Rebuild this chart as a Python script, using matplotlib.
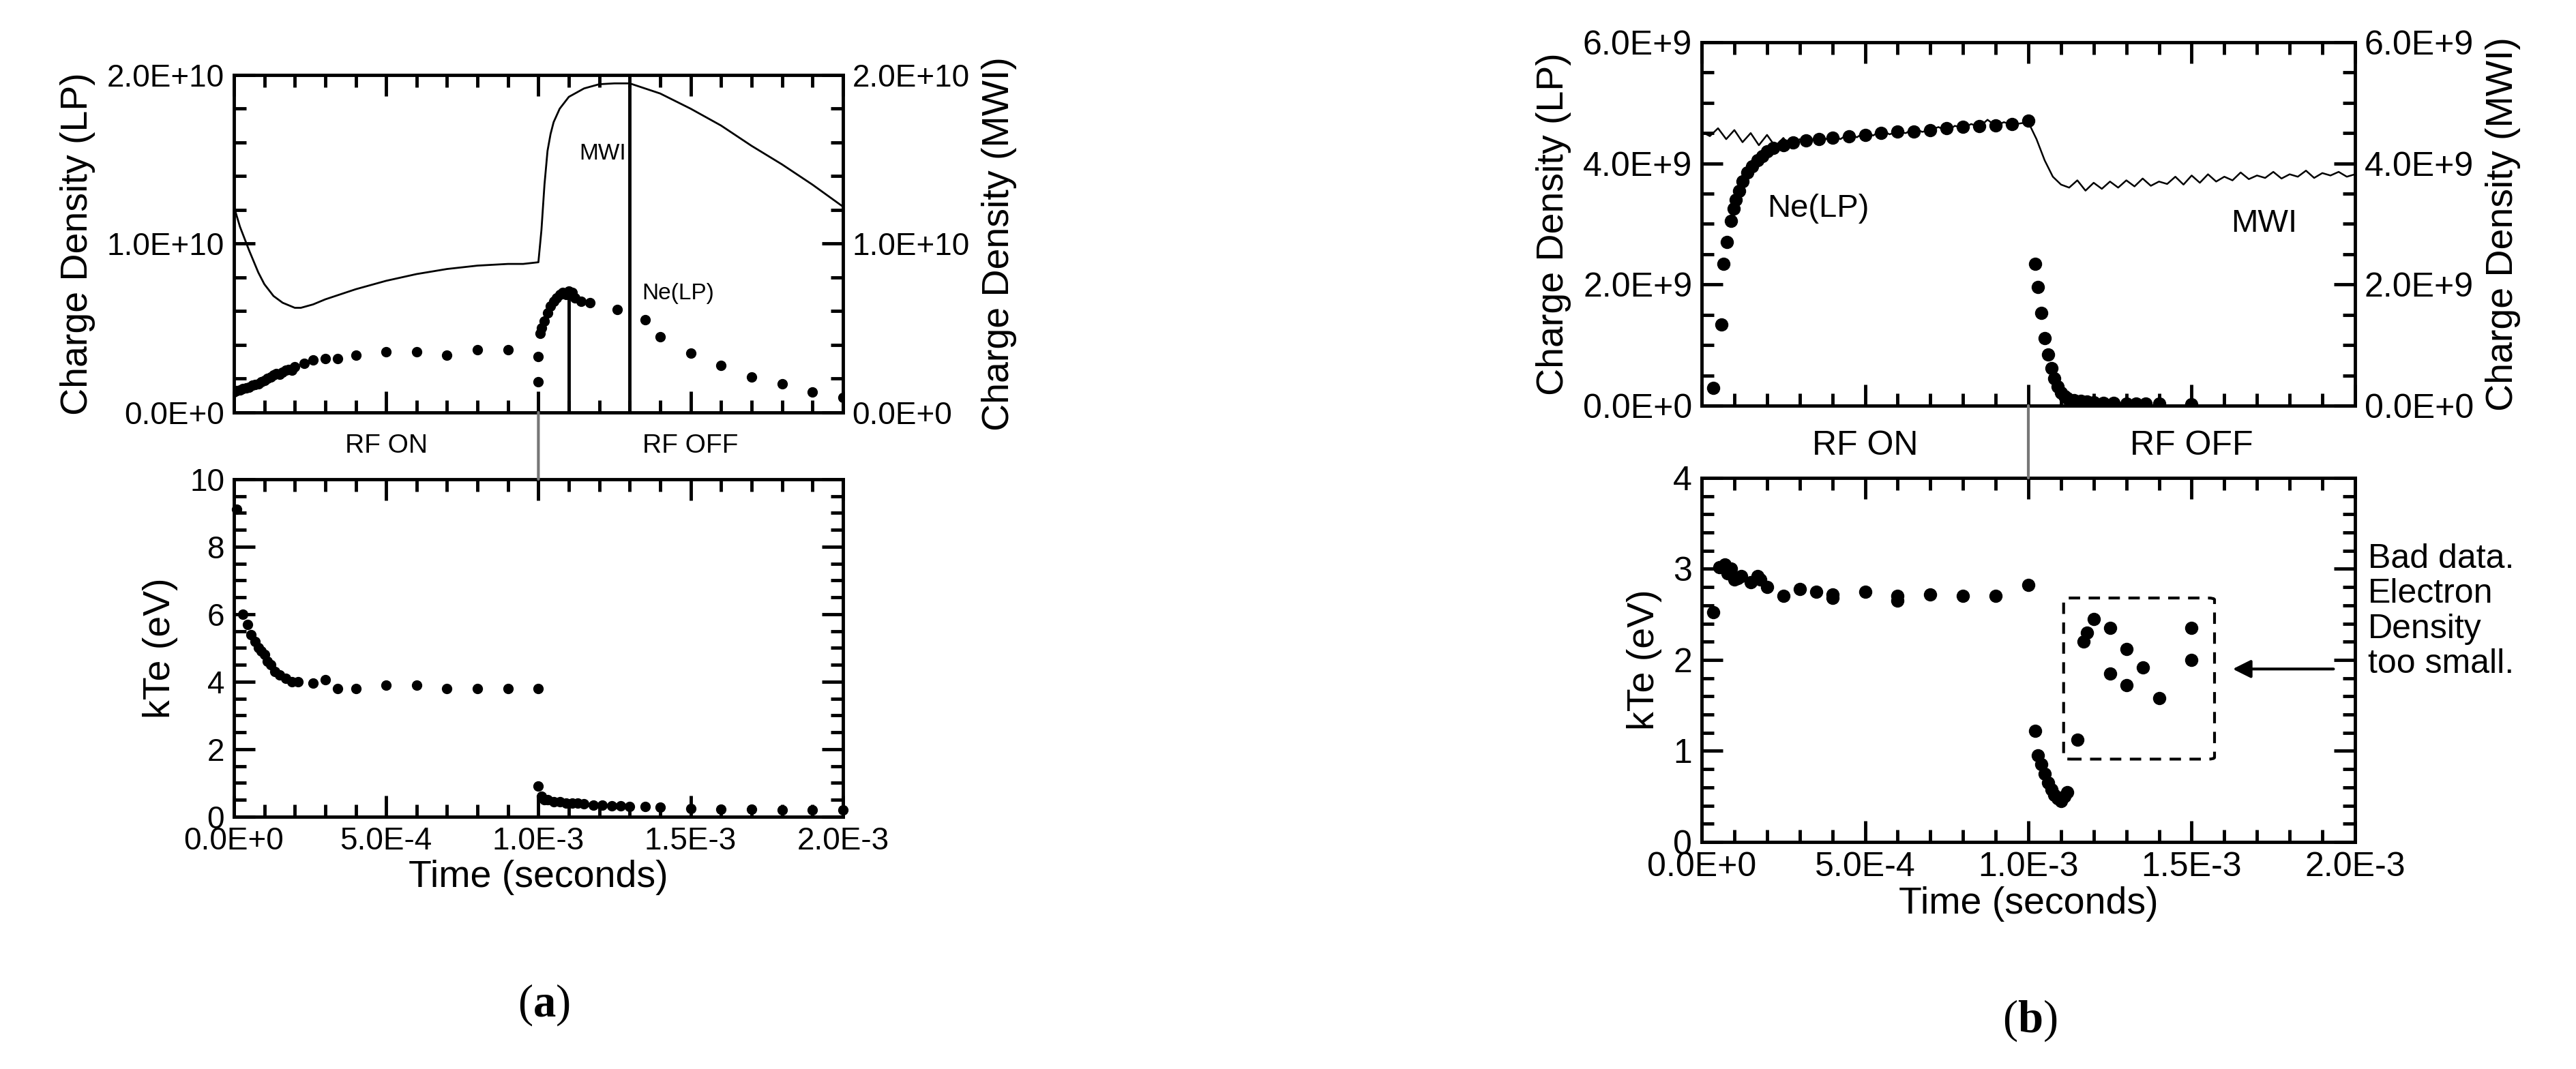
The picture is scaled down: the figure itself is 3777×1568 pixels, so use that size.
import matplotlib
matplotlib.use("Agg")
import matplotlib.pyplot as plt
import numpy as np
from matplotlib.patches import FancyBboxPatch, ConnectionPatch
from matplotlib.ticker import MultipleLocator, FuncFormatter

plt.rcParams['font.family'] = ['Liberation Sans', 'DejaVu Sans']
plt.rcParams['mathtext.fontset'] = 'custom'
plt.rcParams['mathtext.rm'] = 'Liberation Serif'
plt.rcParams['mathtext.bf'] = 'Liberation Serif:bold'

# ---------------- Panel (a) data ----------------
a_mwi_t = [0, 0.2, 0.5, 0.8, 1.0, 1.3, 1.6, 2.0, 2.2, 2.6, 3.0, 4.0, 5.0, 6.0, 7.0, 8.0, 9.0, 9.5, 10.0,
           10.1, 10.2, 10.3, 10.4, 10.5, 10.7, 11.0, 11.5, 12.0, 12.5, 13.0, 14.0, 15.0, 16.0, 17.0, 18.0, 19.0, 20.0]  # 1e-4 s
a_mwi_v = [12.2, 11.0, 9.6, 8.3, 7.6, 6.9, 6.5, 6.2, 6.2, 6.4, 6.7, 7.3, 7.8, 8.2, 8.5, 8.7, 8.8, 8.8, 8.9,
           10.8, 13.5, 15.5, 16.5, 17.2, 18.0, 18.7, 19.2, 19.45, 19.5, 19.5, 18.9, 18.0, 17.0, 15.8, 14.7, 13.5, 12.2]  # 1e9

a_ne_t = [0, 0.1, 0.2, 0.3, 0.4, 0.5, 0.6, 0.7, 0.8, 0.9, 1.0, 1.1, 1.2, 1.3, 1.4, 1.5, 1.6, 1.7, 1.8, 1.9, 2.0,
          2.3, 2.6, 3.0, 3.4, 4.0, 5.0, 6.0, 7.0, 8.0, 9.0, 10.0,
          10.0, 10.05, 10.1, 10.2, 10.3, 10.4, 10.5, 10.6, 10.7, 10.8, 10.9, 11.0, 11.1, 11.2, 11.4, 11.7,
          12.6, 13.5, 14.0, 15.0, 16.0, 17.0, 18.0, 19.0, 20.0]
a_ne_v = [1.2, 1.3, 1.35, 1.4, 1.45, 1.5, 1.6, 1.65, 1.7, 1.8, 1.9, 2.0, 2.1, 2.2, 2.3, 2.25, 2.4, 2.5, 2.55, 2.5, 2.7,
          2.9, 3.1, 3.2, 3.2, 3.4, 3.6, 3.6, 3.4, 3.7, 3.7, 3.3,
          1.8, 4.7, 5.0, 5.4, 5.9, 6.3, 6.6, 6.8, 7.0, 7.1, 7.0, 7.2, 7.1, 6.8, 6.6, 6.5,
          6.1, 5.5, 4.5, 3.5, 2.8, 2.1, 1.7, 1.2, 0.9]

a_mark_t = [11.0, 13.0]
a_mark_top = [7.1, 19.4]

a_kte_t = [0.1, 0.3, 0.45, 0.55, 0.7, 0.8, 0.9, 1.0, 1.1, 1.2, 1.35, 1.5, 1.7, 1.9, 2.1, 2.6, 3.0, 3.4, 4.0,
           5.0, 6.0, 7.0, 8.0, 9.0, 10.0,
           10.0, 10.1, 10.2, 10.3, 10.5, 10.7, 10.9, 11.1, 11.3, 11.5, 11.8, 12.1, 12.4, 12.7, 13.0, 13.5,
           14.0, 15.0, 16.0, 17.0, 18.0, 19.0, 20.0]
a_kte_v = [9.1, 6.0, 5.7, 5.4, 5.2, 5.0, 4.9, 4.8, 4.6, 4.5, 4.3, 4.2, 4.1, 4.0, 4.0, 3.95, 4.06, 3.8, 3.8,
           3.9, 3.9, 3.8, 3.8, 3.8, 3.8,
           0.9, 0.6, 0.5, 0.5, 0.45, 0.45, 0.4, 0.4, 0.4, 0.38, 0.35, 0.35, 0.33, 0.32, 0.3, 0.3,
           0.28, 0.25, 0.22, 0.22, 0.2, 0.2, 0.2]

# ---------------- Panel (b) data ----------------
b_mwi_t = list(np.arange(0, 20.01, 0.25))  # 1e-4 s (time grid of the trace)
b_mwi_v = [4.52, 4.45, 4.58, 4.40, 4.55, 4.35, 4.50, 4.30, 4.47, 4.28, 4.42, 4.25, 4.40, 4.32, 4.45, 4.38, 4.48,
           4.40, 4.50, 4.43, 4.52, 4.46, 4.55, 4.48, 4.52, 4.50, 4.58, 4.52, 4.55, 4.60, 4.53, 4.62, 4.58, 4.65,
           4.60, 4.72, 4.62, 4.68, 4.64, 4.66, 4.68,
           4.40, 4.05, 3.78, 3.65, 3.60, 3.72, 3.55, 3.68, 3.58, 3.70, 3.60, 3.72, 3.62, 3.75, 3.63, 3.70, 3.66,
           3.78, 3.65, 3.80, 3.68, 3.82, 3.70, 3.78, 3.72, 3.85, 3.74, 3.80, 3.76, 3.86, 3.75, 3.82, 3.78, 3.88,
           3.76, 3.84, 3.80, 3.86, 3.78, 3.82]

b_ne_t = [0.35, 0.6, 0.66, 0.78, 0.9, 0.97, 1.05, 1.15, 1.25, 1.4, 1.55, 1.7, 1.85, 2.0, 2.2, 2.5, 2.8, 3.2,
          3.6, 4.0, 4.5, 5.0, 5.5, 6.0, 6.5, 7.0, 7.5, 8.0, 8.5, 9.0, 9.5, 10.0,
          10.2, 10.3, 10.4, 10.5, 10.6, 10.7, 10.8, 10.9, 11.0, 11.1, 11.2, 11.4, 11.6, 11.8, 12.0, 12.3, 12.6,
          13.0, 13.3, 13.6, 14.0, 15.0]
b_ne_v = [0.29, 1.34, 2.34, 2.7, 3.05, 3.25, 3.4, 3.55, 3.7, 3.85, 3.95, 4.05, 4.12, 4.2, 4.25, 4.3, 4.35, 4.38,
          4.4, 4.42, 4.45, 4.47, 4.5, 4.52, 4.53, 4.55, 4.58, 4.6, 4.62, 4.63, 4.65, 4.7,
          2.34, 1.96, 1.53, 1.12, 0.85, 0.62, 0.45, 0.32, 0.22, 0.16, 0.12, 0.09, 0.08, 0.07, 0.06, 0.05, 0.05,
          0.04, 0.03, 0.03, 0.03, 0.02]

b_kte_t = [0.35, 0.55, 0.7, 0.8, 0.9, 1.0, 1.1, 1.2, 1.5, 1.7, 1.8, 2.0, 2.5, 3.0, 3.5, 4.0, 4.0, 5.0, 6.0, 6.0,
           7.0, 8.0, 9.0, 10.0,
           10.2, 10.3, 10.4, 10.5, 10.6, 10.7, 10.8, 10.9, 11.0, 11.1, 11.2,
           11.5, 11.7, 11.8, 12.0, 12.5, 12.5, 13.0, 13.0, 13.5, 14.0, 15.0, 15.0]
b_kte_v = [2.52, 3.02, 3.05, 2.95, 3.0, 2.88, 2.9, 2.92, 2.85, 2.92, 2.88, 2.8, 2.7, 2.78, 2.75, 2.72, 2.68, 2.75,
           2.7, 2.65, 2.72, 2.7, 2.7, 2.82,
           1.22, 0.95, 0.85, 0.75, 0.65, 0.58, 0.52, 0.48, 0.45, 0.5, 0.55,
           1.12, 2.2, 2.3, 2.45, 2.35, 1.85, 2.12, 1.72, 1.92, 1.58, 2.35, 2.0]

box_b = [11.08, 15.7, 0.91, 2.68]  # t0, t1 (1e-4 s), kTe0, kTe1

# ---------------- Figure ----------------
fig = plt.figure(figsize=(37.77, 15.68), dpi=100)

def fmt_sci(v, pos):
    if v == 0:
        return "0.0E+0"
    e = int(np.floor(np.log10(abs(v)) + 1e-9))
    return f"{v/10**e:.1f}E{e:+d}"

def fmt_time(v, pos):
    if abs(v) < 1e-12:
        return "0.0E+0"
    e = int(np.floor(np.log10(abs(v)) + 1e-9))
    return f"{v/10**e:.1f}E{e:d}"

TLS = 33
LBS = 40

def style(ax, ymaj, ymin, fs=TLS):
    ax.set_xlim(0, 2e-3)
    ax.xaxis.set_major_locator(MultipleLocator(5e-4))
    ax.xaxis.set_minor_locator(MultipleLocator(1e-4))
    ax.yaxis.set_major_locator(MultipleLocator(ymaj))
    ax.yaxis.set_minor_locator(MultipleLocator(ymin))
    ax.tick_params(which='both', direction='in', top=True, right=True, width=3.5, labelsize=fs, pad=10)
    ax.tick_params(which='major', length=22)
    ax.tick_params(which='minor', length=13)
    for s in ax.spines.values():
        s.set_linewidth(3.5)

def tt(lst):
    return np.array(lst) * 1e-4

# ---- (a) top
axA = fig.add_axes([0.0908, 0.6142, 0.2364, 0.3157])
style(axA, 1e10, 2e9)
axA.set_ylim(0, 2e10)
axA.plot(tt(a_mwi_t), np.array(a_mwi_v) * 1e9, color='black', lw=2)
axA.plot(tt(a_ne_t), np.array(a_ne_v) * 1e9, 'o', color='black', ms=10)
axA.vlines(tt(a_mark_t), 0, np.array(a_mark_top) * 1e9, color='black', lw=3.5)
axA.tick_params(labelbottom=False, labelright=False)
axA.yaxis.set_major_formatter(FuncFormatter(fmt_sci))
axA.set_ylabel("Charge Density (LP)", fontsize=LBS, labelpad=12)
axA.text(1.135e-3, 1.5e10, "MWI", fontsize=24)
axA.text(1.34e-3, 6.7e9, "Ne(LP)", fontsize=24)
axA.text(0.5e-3, -0.1, "RF ON", transform=axA.get_xaxis_transform(), ha='center', va='center', fontsize=28)
axA.text(1.5e-3, -0.1, "RF OFF", transform=axA.get_xaxis_transform(), ha='center', va='center', fontsize=28)
axA2 = axA.twinx()
axA2.set_ylim(0, 2e10)
axA2.yaxis.set_major_locator(MultipleLocator(1e10))
axA2.yaxis.set_minor_locator(MultipleLocator(2e9))
axA2.yaxis.set_major_formatter(FuncFormatter(fmt_sci))
axA2.tick_params(which='both', direction='in', width=3.5, labelsize=TLS, pad=10)
axA2.tick_params(which='major', length=22)
axA2.tick_params(which='minor', length=13)
axA2.set_ylabel("Charge Density (MWI)", fontsize=LBS, labelpad=12)

# ---- (a) bottom
axB = fig.add_axes([0.0908, 0.236, 0.2364, 0.3157])
style(axB, 2, 0.5)
axB.set_ylim(0, 10)
axB.plot(tt(a_kte_t), a_kte_v, 'o', color='black', ms=10, clip_on=False)
axB.xaxis.set_major_formatter(FuncFormatter(fmt_time))
axB.set_ylabel("kTe (eV)", fontsize=LBS, labelpad=12)
axB.set_xlabel("Time (seconds)", fontsize=LBS, labelpad=4)
fig.add_artist(ConnectionPatch(xyA=(1e-3, 0), coordsA=axA.transData, xyB=(1e-3, 10), coordsB=axB.transData,
                               color='#777777', lw=3))

# ---- (b) top
axC = fig.add_axes([0.6606, 0.6205, 0.2536, 0.340])
style(axC, 2e9, 5e8, fs=36)
axC.set_ylim(0, 6e9)
axC.plot(tt(b_mwi_t), np.array(b_mwi_v) * 1e9, color='black', lw=1.8)
axC.plot(tt(b_ne_t), np.array(b_ne_v) * 1e9, 'o', color='black', ms=13)
axC.tick_params(labelbottom=False, labelright=False)
axC.yaxis.set_major_formatter(FuncFormatter(fmt_sci))
axC.set_ylabel("Charge Density (LP)", fontsize=LBS, labelpad=12)
axC.text(0.2e-3, 3.25e9, "Ne(LP)", fontsize=34, va='center')
axC.text(1.62e-3, 3.0e9, "MWI", fontsize=34, va='center')
axC.text(0.5e-3, -0.11, "RF ON", transform=axC.get_xaxis_transform(), ha='center', va='center', fontsize=36)
axC.text(1.5e-3, -0.11, "RF OFF", transform=axC.get_xaxis_transform(), ha='center', va='center', fontsize=36)
axC2 = axC.twinx()
axC2.set_ylim(0, 6e9)
axC2.yaxis.set_major_locator(MultipleLocator(2e9))
axC2.yaxis.set_minor_locator(MultipleLocator(5e8))
axC2.yaxis.set_major_formatter(FuncFormatter(fmt_sci))
axC2.tick_params(which='both', direction='in', width=3.5, labelsize=36, pad=10)
axC2.tick_params(which='major', length=22)
axC2.tick_params(which='minor', length=13)
axC2.set_ylabel("Charge Density (MWI)", fontsize=LBS, labelpad=12)

# ---- (b) bottom
axD = fig.add_axes([0.6606, 0.2124, 0.2536, 0.3406])
style(axD, 1, 0.2, fs=36)
axD.set_ylim(0, 4)
axD.plot(tt(b_kte_t), b_kte_v, 'o', color='black', ms=13)
axD.xaxis.set_major_formatter(FuncFormatter(fmt_time))
axD.set_ylabel("kTe (eV)", fontsize=LBS, labelpad=12)
axD.set_xlabel("Time (seconds)", fontsize=LBS, labelpad=4)
bx = FancyBboxPatch((box_b[0] * 1e-4, box_b[2]), (box_b[1] - box_b[0]) * 1e-4, box_b[3] - box_b[2],
                    boxstyle="round,pad=0,rounding_size=0.00002", mutation_aspect=4 / 2e-3 * 0.5,
                    fill=False, ls=(0, (4, 3)), lw=3, ec='black')
axD.add_patch(bx)
axD.annotate("", xy=(1.62e-3, 1.9), xytext=(1.94e-3, 1.9),
             arrowprops=dict(arrowstyle='-|>', color='black', lw=3, mutation_scale=40))
axD.text(1.02, 0.82, "Bad data.\nElectron\nDensity\ntoo small.", transform=axD.transAxes,
         fontsize=36, va='top', ha='left', linespacing=1.15)
fig.add_artist(ConnectionPatch(xyA=(1e-3, 0), coordsA=axC.transData, xyB=(1e-3, 4), coordsB=axD.transData,
                               color='#777777', lw=3))

fig.text(0.211, 0.06, r"($\mathbf{a}$)", fontsize=48, ha='center', va='center', family='Liberation Serif')
fig.text(0.788, 0.045, r"($\mathbf{b}$)", fontsize=48, ha='center', va='center', family='Liberation Serif')

fig.savefig("out.png", dpi=100)
